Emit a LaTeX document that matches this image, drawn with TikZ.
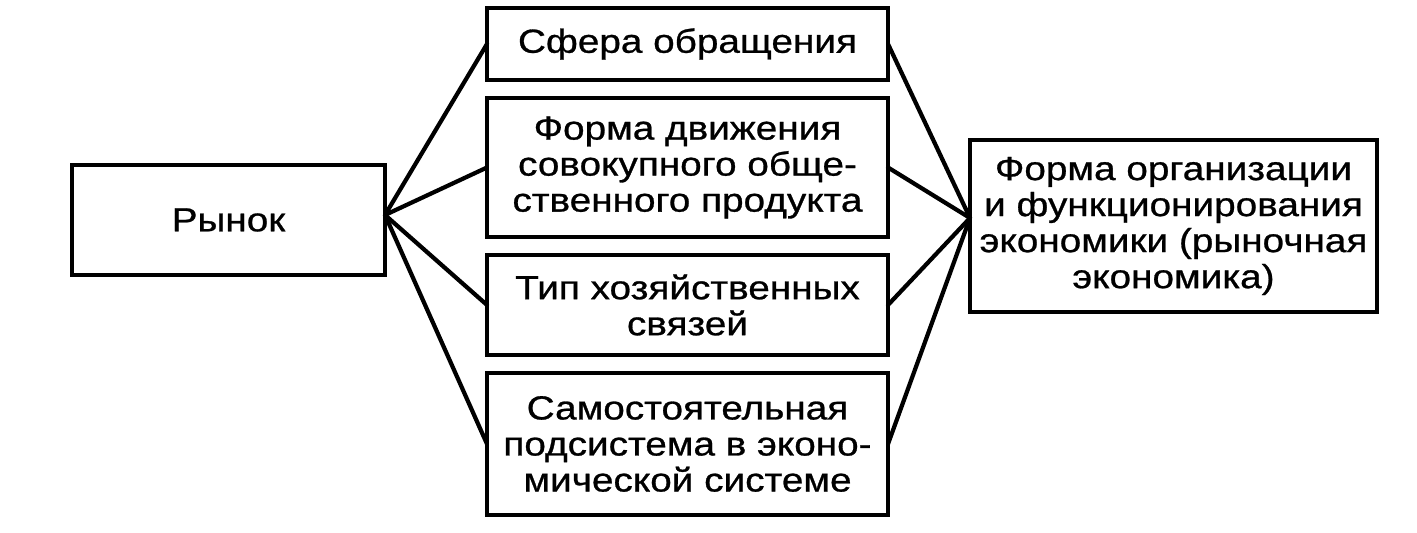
\documentclass[tikz,border=0pt]{standalone}
\usepackage{fontspec}
\setmainfont{Liberation Sans}[FakeStretch=1.16,FakeBold=0.8]
\usepackage{tikz}
\usetikzlibrary{positioning,calc}

\tikzset{
  box/.style={draw,line width=2.2pt,inner sep=0pt,outer sep=0pt,align=center,
    font=\fontsize{19}{20.5}\selectfont},
  link/.style={line width=2.4pt,line cap=round}
}

\begin{document}
\begin{tikzpicture}
  \useasboundingbox (0,0) rectangle (28.34,10.66);
  % Market
  \node[box,minimum width=6.26cm,minimum height=2.2cm] (rynok) at (4.57,6.26) {Рынок};
  % Aspects of the market
  \node[box,minimum width=8.02cm,minimum height=1.44cm] (sfera) at (13.75,9.78) {Сфера обращения};
  \node[box,minimum width=8.02cm,minimum height=2.78cm] (forma) at (13.75,7.31)
    {Форма движения\\совокупного обще-\\ственного продукта};
  \node[box,minimum width=8.02cm,minimum height=2.0cm] (tip) at (13.75,4.56)
    {Тип хозяйственных\\связей};
  \node[box,minimum width=8.02cm,minimum height=2.84cm] (podsis) at (13.75,1.78)
    {Самостоятельная\\подсистема в эконо-\\мической системе};
  % Economy
  \node[box,minimum width=8.14cm,minimum height=3.44cm] (ekon) at (23.47,6.14)
    {Форма организации\\и функционирования\\экономики (рыночная\\экономика)};
  % Links
  \foreach \n in {sfera,forma,tip,podsis} {
    \draw[link] ([yshift=0.1cm]rynok.east) -- (\n.west);
    \draw[link] (\n.east) -- ([yshift=0.16cm]ekon.west);
  }
\end{tikzpicture}
\end{document}
